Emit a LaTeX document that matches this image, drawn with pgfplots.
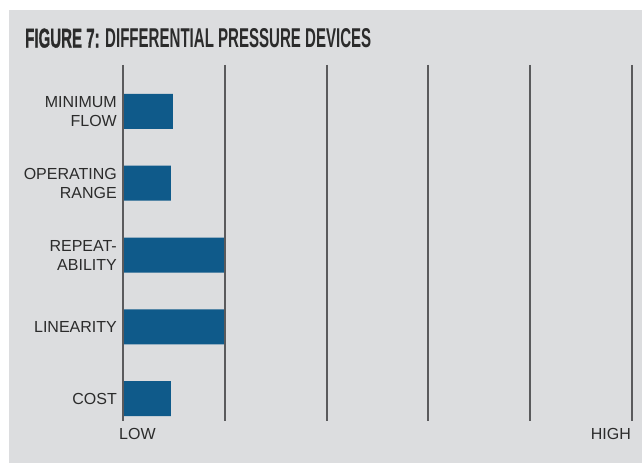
\documentclass[border=0pt]{standalone}
\usepackage{pgfplots}
\pgfplotsset{compat=1.18}
\usepackage{graphicx}
\usepackage{fontspec}
\setmainfont{Liberation Sans}
\newfontfamily\titleheavy{Liberation Sans Bold}[FakeBold=1.2]
\newfontfamily\titlemed{Liberation Sans Bold}
\definecolor{panel}{HTML}{DCDDDF}
\definecolor{barblue}{HTML}{0F5A8A}
\definecolor{rule}{HTML}{5A5A5C}
\definecolor{ink}{HTML}{2B2B2B}

\begin{document}
\begin{tikzpicture}[x=1pt,y=1pt]
  % page and grey panel
  \fill[white] (0,0) rectangle (642,463);
  \fill[panel] (9,0) rectangle (642,453);
  \useasboundingbox (0,0) rectangle (642,463);

  % title
  \node[anchor=south west, inner sep=0pt, text=ink] at (25,415)
    {\resizebox{346pt}{19pt}{{\titleheavy FIGURE 7:} {\titlemed DIFFERENTIAL PRESSURE DEVICES}}};

  \begin{axis}[
    at={(123pt,42pt)}, anchor=south west,
    scale only axis, width=509pt, height=356pt,
    xmin=0, xmax=5, ymin=-0.646, ymax=4.31, y dir=reverse,
    axis line style={draw=none},
    major tick length=0pt,
    xtick={0,1,2,3,4,5}, xticklabels={},
    xmajorgrids, grid style={rule, line width=2pt},
    axis on top,
    ytick={0,1,2,3,4},
    yticklabels={{MINIMUM\\FLOW},{OPERATING\\RANGE},{REPEAT-\\ABILITY},{LINEARITY},{COST}},
    yticklabel style={align=right, font=\fontsize{16}{19}\selectfont, text=ink, inner sep=0pt, xshift=-6pt},
    xbar, bar width=35pt,
    clip=false,
  ]
    \addplot[fill=barblue, draw=none] coordinates {
      (0.49,0) (0.47,1) (1.0,2) (1.0,3) (0.47,4)
    };
  \end{axis}

  % scale end labels
  \node[anchor=base west, inner sep=0pt, text=ink, font=\fontsize{16}{19}\selectfont] at (119,24) {LOW};
  \node[anchor=base east, inner sep=0pt, text=ink, font=\fontsize{16}{19}\selectfont] at (631,24) {HIGH};
\end{tikzpicture}
\end{document}
